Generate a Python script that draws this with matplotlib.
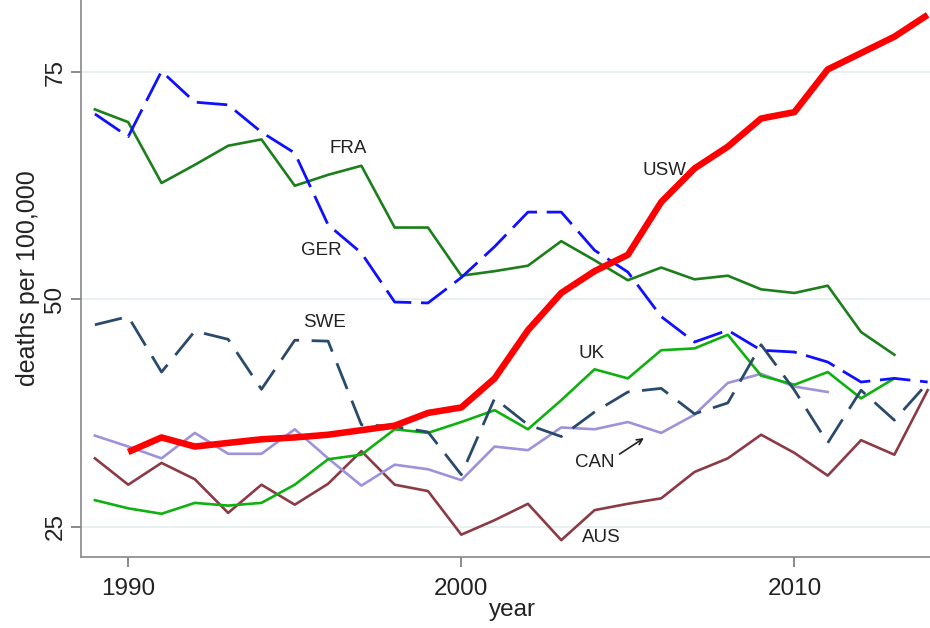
import matplotlib
matplotlib.use("Agg")
import matplotlib.pyplot as plt

plt.rcParams['font.family'] = ['Liberation Sans', 'DejaVu Sans']

years = list(range(1989, 2015))

usw_years = list(range(1990, 2015))
usw = [33.2, 34.8, 33.8, 34.2, 34.6, 34.8, 35.1, 35.6, 36.1, 37.5, 38.1, 41.3, 46.6,
       50.7, 53.1, 54.9, 60.7, 64.4, 66.8, 69.9, 70.6, 75.3, 77.1, 78.9, 81.3]

ger = [70.4, 67.9, 75.1, 71.7, 71.4, 68.4, 66.1, 58.2, 55.1, 49.7, 49.6, 52.4, 55.8,
       59.6, 59.6, 55.4, 53.0, 48.1, 45.3, 46.6, 44.4, 44.2, 43.1, 40.9, 41.3, 40.9]

fra_years = list(range(1989, 2014))
fra = [70.9, 69.5, 62.8, 64.8, 66.9, 67.6, 62.5, 63.7, 64.7, 57.9, 57.9, 52.6, 53.1,
       53.7, 56.4, 54.3, 52.1, 53.5, 52.2, 52.6, 51.1, 50.7, 51.5, 46.4, 43.9]

swe = [47.2, 48.1, 42.0, 46.5, 45.6, 40.1, 45.5, 45.4, 36.2, 36.0, 35.4, 30.7, 39.1,
       36.2, 34.9, 37.6, 39.8, 40.2, 37.4, 38.6, 45.0, 40.0, 34.2, 40.0, 36.7, 40.8]

uk_years = list(range(1989, 2014))
uk = [27.9, 27.0, 26.4, 27.6, 27.3, 27.6, 29.6, 32.4, 32.9, 35.7, 35.3, 36.5, 37.8,
      35.7, 38.9, 42.3, 41.3, 44.4, 44.6, 46.1, 41.6, 40.6, 42.0, 39.1, 41.3]

can_years = list(range(1989, 2012))
can = [35.0, 33.8, 32.5, 35.3, 33.0, 33.0, 35.7, 32.5, 29.5, 31.8, 31.3, 30.1, 33.8,
       33.4, 35.9, 35.7, 36.5, 35.3, 37.3, 40.8, 41.8, 40.4, 39.8]

aus = [32.5, 29.6, 32.0, 30.2, 26.5, 29.6, 27.4, 29.7, 33.3, 29.6, 28.9, 24.1, 25.7,
       27.5, 23.5, 26.8, 27.5, 28.1, 31.0, 32.5, 35.1, 33.1, 30.6, 34.5, 32.9, 40.0]

fig = plt.figure(figsize=(9.3, 6.28), dpi=100)
ax = fig.add_axes([0.087, 0.113, 0.913, 0.887])

for v in [25, 50, 75]:
    ax.axhline(v, color='#e6eff1', lw=1.3, zorder=0)

ax.plot(years, aus, color='#8c3a45', lw=1.9)
ax.plot(can_years, can, color='#9d93d9', lw=1.9)
ax.plot(uk_years, uk, color='#10b010', lw=1.9)
ax.plot(years, swe, color='#2a4a6c', lw=2.0, dashes=(10, 4.5))
ax.plot(fra_years, fra, color='#1c7f1c', lw=1.9)
ax.plot(years, ger, color='#1010ff', lw=2.0, dashes=(11, 3.5))
ax.plot(usw_years, usw, color='#ff0000', lw=4.7, solid_capstyle='butt')

lab = dict(fontsize=13.5, color='#222222', ha='center', va='center')
ax.text(1996.6, 66.6, 'FRA', **lab)
ax.text(1995.8, 55.4, 'GER', **lab)
ax.text(1995.9, 47.5, 'SWE', **lab)
ax.text(2006.1, 64.2, 'USW', **lab)
ax.text(2003.9, 44.0, 'UK', **lab)
ax.text(2004.0, 32.0, 'CAN', **lab)
ax.text(2004.2, 23.8, 'AUS', **lab)
ax.annotate('', xy=(2005.55, 34.9), xytext=(2004.68, 32.8),
            arrowprops=dict(arrowstyle='->', color='#222222', lw=1.2))

ax.set_xlim(1988.58, 2014.07)
ax.set_ylim(21.64, 82.94)
ax.set_xticks([1990, 2000, 2010])
ax.set_yticks([25, 50, 75])
ax.tick_params(axis='both', colors='#777777', labelcolor='#222222', labelsize=17.5,
               length=7, width=1.2)
ax.tick_params(axis='x', pad=8)
for t in ax.get_yticklabels():
    t.set_rotation(90)
    t.set_va('center')
ax.set_xlabel('year', fontsize=17.5, color='#222222')
ax.xaxis.set_label_coords(0.508, -0.075)
ax.set_ylabel('deaths per 100,000', fontsize=18, color='#222222', labelpad=3)

for s in ['top', 'right']:
    ax.spines[s].set_visible(False)
for s in ['left', 'bottom']:
    ax.spines[s].set_color('#888888')
    ax.spines[s].set_linewidth(1.2)

fig.savefig('out.png', dpi=100)
